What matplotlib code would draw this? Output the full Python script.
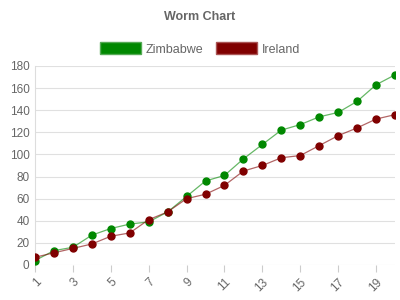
import matplotlib
matplotlib.use("Agg")
import matplotlib.pyplot as plt
from matplotlib.patches import Patch

overs = list(range(1, 21))
zimbabwe = [4, 13, 16, 27, 33, 37, 39, 48, 62, 76, 81, 96, 109, 122, 127, 134, 138, 148, 163, 172]
ireland = [7, 11, 15, 19, 26, 29, 41, 48, 60, 64, 72, 85, 90, 97, 99, 108, 117, 124, 132, 136]
xticks = list(range(1, 21, 2))
yticks = list(range(0, 181, 20))

GREEN = "#008800"
RED = "#800000"
GREY = "#666666"

plt.rcParams.update({"font.family": "Liberation Sans"})
fig = plt.figure(figsize=(4, 3), dpi=100)
ax = fig.add_axes([0.0875, 0.1167, 0.9, 0.6633])

ax.plot(overs, zimbabwe, "-", color=GREEN, alpha=0.6, lw=0.9, zorder=3)
ax.plot(overs, zimbabwe, "o", color=GREEN, ms=5, mec=GREEN, zorder=4)
ax.plot(overs, ireland, "-", color=RED, alpha=0.6, lw=0.9, zorder=3)
ax.plot(overs, ireland, "o", color=RED, ms=5, mec=RED, zorder=4)

ax.set_xlim(1, 20)
ax.set_ylim(0, 180)
ax.set_yticks(yticks)
ax.set_xticks(xticks)
ax.set_xticklabels([str(t) for t in xticks], rotation=45, ha="right",
                   rotation_mode="anchor")
ax.tick_params(axis="y", length=0, labelsize=8.5, labelcolor=GREY, pad=4)
ax.tick_params(axis="x", length=5, color="#cccccc", labelsize=8.5,
               labelcolor=GREY, pad=3)
ax.grid(axis="y", color="#e0e0e0", lw=0.8)
ax.set_axisbelow(True)
for s in ["top", "right", "bottom"]:
    ax.spines[s].set_visible(False)
ax.spines["left"].set_color("#dddddd")

fig.text(0.5, 0.942, "Worm Chart", ha="center", va="center",
         fontsize=9, fontweight="bold", color=GREY)
handles = [Patch(facecolor=GREEN, edgecolor="#55aa55", label="Zimbabwe"),
           Patch(facecolor=RED, edgecolor="#aa5555", label="Ireland")]
fig.legend(handles=handles, loc="center", bbox_to_anchor=(0.5, 0.837), ncol=2,
           frameon=False, fontsize=9, handlelength=3.3, handleheight=1.1,
           handletextpad=0.4, columnspacing=1.0, labelcolor=GREY)

fig.savefig("out.png", dpi=100)
